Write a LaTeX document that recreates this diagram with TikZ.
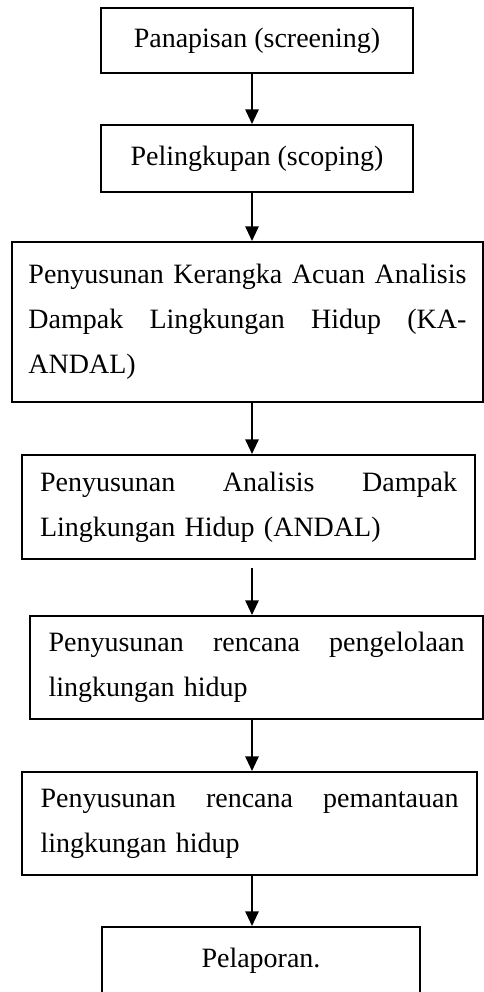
\documentclass[tikz,border=0pt]{standalone}
\usepackage{fontspec}
\setmainfont{Liberation Serif}
\usetikzlibrary{arrows.meta}

\tikzset{every picture/.style={line width=1.5pt}}
\tikzset{
	stepbox/.style={draw, rectangle, inner sep=0pt, font=\fontsize{21}{33.75}\selectfont},
	flowarrow/.style={-{Triangle[length=11pt,width=10pt]}, line width=1.4pt}
}

\begin{document}
\begin{tikzpicture}[x=0.75pt,y=0.75pt,yscale=-1,xscale=1]
	\useasboundingbox (0,0) rectangle (484,992);
	\coordinate (spine) at (252,0);

	%Shape: Rectangle [id:screen] 
	\node[stepbox, minimum width=234pt, minimum height=48.75pt] (screen) at (257,40.5) {Panapisan (screening)};
	%Shape: Rectangle [id:scope] 
	\node[stepbox, minimum width=234pt, minimum height=50.25pt] (scope) at (257,158.5) {Pelingkupan (scoping)};
	%Shape: Rectangle [id:kaandal] 
	\node[stepbox, minimum width=353.25pt, minimum height=120pt, text width=328.5pt] (kaandal) at (247.5,322)
		{Penyusunan\hfill Kerangka\hfill Acuan\hfill Analisis\\ Dampak\hfill Lingkungan\hfill Hidup\hfill (KA-\\ ANDAL)};
	%Shape: Rectangle [id:andal] 
	\node[stepbox, minimum width=339.75pt, minimum height=78pt, text width=312.75pt] (andal) at (248.5,507)
		{Penyusunan\hfill Analisis\hfill Dampak\\ Lingkungan Hidup (ANDAL)};
	%Shape: Rectangle [id:rkl] 
	\node[stepbox, minimum width=339.75pt, minimum height=77.25pt, text width=312pt] (rkl) at (256.5,667.5)
		{Penyusunan\hfill rencana\hfill pengelolaan\\ lingkungan hidup};
	%Shape: Rectangle [id:rpl] 
	\node[stepbox, minimum width=341.25pt, minimum height=77.25pt, text width=313.5pt] (rpl) at (249.5,823.5)
		{Penyusunan\hfill rencana\hfill pemantauan\\ lingkungan hidup};
	%Shape: Rectangle [id:report] 
	\node[stepbox, minimum width=238.5pt, minimum height=51pt] (report) at (261,961) {Pelaporan.};

	%Straight Lines 
	\draw[flowarrow] (screen.south -| spine) -- (scope.north -| spine);
	\draw[flowarrow] (scope.south -| spine) -- (kaandal.north -| spine);
	\draw[flowarrow] (kaandal.south -| spine) -- (andal.north -| spine);
	\draw[flowarrow, shorten <=6pt] (andal.south -| spine) -- (rkl.north -| spine);
	\draw[flowarrow] (rkl.south -| spine) -- (rpl.north -| spine);
	\draw[flowarrow] (rpl.south -| spine) -- (report.north -| spine);

\end{tikzpicture}
\end{document}
